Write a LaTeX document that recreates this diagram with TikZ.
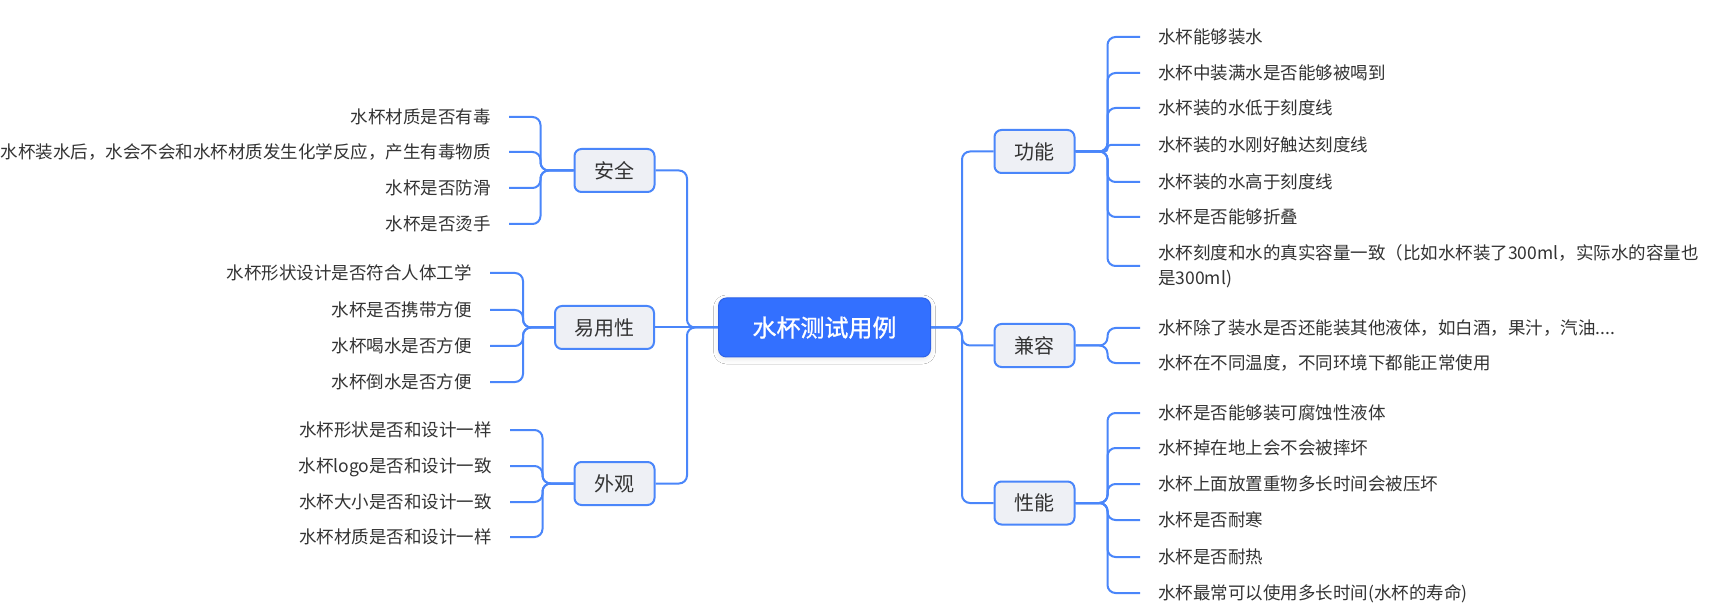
\documentclass[tikz,border=0pt]{standalone}
\usepackage{fontspec}
\setmainfont{Noto Sans CJK SC}
\newfontfamily\rootfont[FakeBold=0.9]{Noto Sans CJK SC}
\usetikzlibrary{shadows.blur}
\definecolor{linec}{RGB}{74,134,250}
\definecolor{boxfill}{RGB}{238,240,245}
\definecolor{rootfill}{RGB}{51,112,255}
\definecolor{rootdraw}{RGB}{45,98,232}
\definecolor{txt}{RGB}{51,51,51}
\begin{document}
\begin{tikzpicture}[x=1pt,y=-1pt,
  conn/.style={draw=linec, line width=2pt, rounded corners=8pt},
  topic/.style={draw=linec, line width=2pt, fill=boxfill, rounded corners=7pt,
    minimum width=80pt, minimum height=43pt, inner sep=0pt, text=txt,
    font=\fontsize{20pt}{24pt}\selectfont, text height=16.6pt, text depth=1.4pt},
  rootbox/.style={draw=rootdraw, line width=1pt, fill=rootfill, rounded corners=8pt,
    minimum width=212pt, minimum height=59pt, inner sep=0pt, text=white,
    font=\rootfont\fontsize{24pt}{28pt}\selectfont, text height=20pt, text depth=1.7pt,
    blur shadow={shadow xshift=0pt, shadow yshift=-2pt, shadow blur radius=5pt, shadow opacity=10}},
  leaf/.style={inner xsep=18pt, inner ysep=0pt, text=txt,
    font=\fontsize{17.5pt}{25pt}\selectfont, text height=14.5pt, text depth=1.2pt},
  leafl/.style={leaf, anchor=east},
  leafr/.style={leaf, anchor=west},
  leafm/.style={inner xsep=18pt, inner ysep=0pt, text=txt, anchor=west, align=left,
    font=\fontsize{17.5pt}{25pt}\selectfont}
]
\fill[white] (0,0) rectangle (1726,609);
\useasboundingbox (0,0) rectangle (1726,609);

% root
\node[rootbox] (root) at (824.5,327.5) {水杯测试用例};

% topics
\node[topic] (aq) at (614.5,170.5) {安全};
\node[topic, minimum width=99pt] (yy) at (604.5,327.5) {易用性};
\node[topic] (wg) at (614.5,483.5) {外观};
\node[topic] (gn) at (1034.5,151.5) {功能};
\node[topic] (jr) at (1034.5,345.5) {兼容};
\node[topic] (xn) at (1034.5,503) {性能};

% left leaves
\node[leafl] (a1) at (509,117) {水杯材质是否有毒};
\node[leafl] (a2) at (509,152) {水杯装水后，水会不会和水杯材质发生化学反应，产生有毒物质};
\node[leafl] (a3) at (509,188) {水杯是否防滑};
\node[leafl] (a4) at (509,224) {水杯是否烫手};

\node[leafl] (y1) at (490,273) {水杯形状设计是否符合人体工学};
\node[leafl] (y2) at (490,310) {水杯是否携带方便};
\node[leafl] (y3) at (490,346) {水杯喝水是否方便};
\node[leafl] (y4) at (490,382) {水杯倒水是否方便};

\node[leafl] (w1) at (510,430) {水杯形状是否和设计一样};
\node[leafl] (w2) at (510,466) {水杯logo是否和设计一致};
\node[leafl] (w3) at (510,502) {水杯大小是否和设计一致};
\node[leafl] (w4) at (510,537) {水杯材质是否和设计一样};

% right leaves
\node[leafr] (g1) at (1140,37) {水杯能够装水};
\node[leafr] (g2) at (1140,73) {水杯中装满水是否能够被喝到};
\node[leafr] (g3) at (1140,108) {水杯装的水低于刻度线};
\node[leafr] (g4) at (1140,145) {水杯装的水刚好触达刻度线};
\node[leafr] (g5) at (1140,182) {水杯装的水高于刻度线};
\node[leafr] (g6) at (1140,217) {水杯是否能够折叠};
\node[leafm] (g7) at (1140,266) {水杯刻度和水的真实容量一致（比如水杯装了300ml，实际水的容量也\\是300ml)};

\node[leafr] (j1) at (1140,328) {水杯除了装水是否还能装其他液体，如白酒，果汁，汽油....};
\node[leafr] (j2) at (1140,363) {水杯在不同温度，不同环境下都能正常使用};

\node[leafr] (x1) at (1140,413) {水杯是否能够装可腐蚀性液体};
\node[leafr] (x2) at (1140,448) {水杯掉在地上会不会被摔坏};
\node[leafr] (x3) at (1140,484) {水杯上面放置重物多长时间会被压坏};
\node[leafr] (x4) at (1140,520) {水杯是否耐寒};
\node[leafr] (x5) at (1140,557) {水杯是否耐热};
\node[leafr] (x6) at (1140,593) {水杯最常可以使用多长时间(水杯的寿命)};

% trunks
\draw[conn] (root.west) -- (yy.east);
\draw[conn] (root.west) -- ++(-31,0) |- (aq.east);
\draw[conn] (root.west) -- ++(-31,0) |- (wg.east);
\draw[conn] (root.east) -- ++(31,0) |- (gn.west);
\draw[conn] (root.east) -- ++(31,0) |- (jr.west);
\draw[conn] (root.east) -- ++(31,0) |- (xn.west);

% left branches
\foreach \c in {a1,a2,a3,a4} \draw[conn] (aq.west) -- ++(-33,0) |- (\c.east);
\foreach \c in {y1,y2,y3,y4} \draw[conn] (yy.west) -- ++(-31,0) |- (\c.east);
\foreach \c in {w1,w2,w3,w4} \draw[conn] (wg.west) -- ++(-31,0) |- (\c.east);

% right branches
\foreach \c in {g1,g2,g3,g5,g6,g7} \draw[conn] (gn.east) -- ++(32,0) |- (\c.west);
\draw[conn, rounded corners=3pt] (gn.east) -- ++(32,0) |- (g4.west);
\foreach \c in {j1,j2} \draw[conn] (jr.east) -- ++(32,0) |- (\c.west);
\foreach \c in {x1,x2,x3,x4,x5,x6} \draw[conn] (xn.east) -- ++(32,0) |- (\c.west);
\end{tikzpicture}
\end{document}
